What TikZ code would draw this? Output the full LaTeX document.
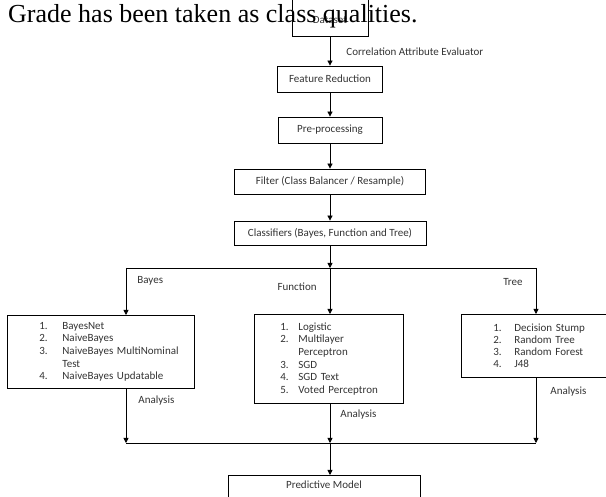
\documentclass[tikz,border=0pt]{standalone}
\usepackage{fontspec}
\setmainfont{Liberation Serif}
\newfontfamily\calfont{Carlito}
\usepackage{tikz}
\usetikzlibrary{arrows.meta}

\newcommand{\listnum}[2]{\makebox[#1][l]{#2}}

\begin{document}
\begin{tikzpicture}[x=1pt, y=-1pt,
    box/.style={draw, line width=0.8pt, text=black!80, inner sep=0pt,
      font={\calfont\fontsize{11}{12.6}\selectfont}},
    stepbox/.style={box, minimum height=26pt},
    listbox/.style={box, align=left, anchor=north west},
    lbl/.style={text=black!80, inner sep=0pt,
      font={\calfont\fontsize{11}{12}\selectfont}},
    link/.style={line width=0.8pt, -{Triangle[length=5pt, width=5pt]}},
    rail/.style={line width=0.8pt}]
    \def\spine{330}

    \useasboundingbox (0,0) rectangle (606,497);



    \node[stepbox, minimum width=76pt, text height=40pt, text depth=13pt,
      anchor=south] (dataset) at (\spine,37) {Dataset};

    \node[anchor=base west, inner sep=0pt, font=\fontsize{26}{30}\selectfont]
    (caption) at (8,23) {Grade has been taken as class qualities.};

    \node[stepbox, minimum width=105pt] (reduce) at (\spine,79) {Feature Reduction};

    \node[stepbox, minimum width=104pt] (prep) at (\spine,130) {Pre-processing};

    \node[stepbox, minimum width=191pt, minimum height=25pt] (filter) at (\spine,181.5)
    {Filter (Class Balancer / Resample)};

    \node[stepbox, minimum width=192pt, minimum height=24pt] (classify) at (\spine,233)
    {Classifiers (Bayes, Function and Tree)};



    \node[listbox, text width=123pt, inner xsep=32pt, minimum height=73pt]
    (bayes) at (7,315) {\listnum{23pt}{1.}BayesNet\\
      \listnum{23pt}{2.}NaiveBayes\\
      \listnum{23pt}{3.}\mbox{NaiveBayes MultiNominal}\\
      \hspace*{23pt}Test\\
      \listnum{23pt}{4.}\mbox{NaiveBayes Updatable}};

    \node[listbox, text width=97pt, inner xsep=26pt, minimum height=89pt]
    (func) at (254,314) {\listnum{18pt}{1.}Logistic\\
      \listnum{18pt}{2.}Multilayer\\
      \hspace*{18pt}Perceptron\\
      \listnum{18pt}{3.}SGD\\
      \listnum{18pt}{4.}\mbox{SGD Text}\\
      \listnum{18pt}{5.}\mbox{Voted Perceptron}};

    \node[listbox, text width=87pt, inner xsep=32pt, minimum height=63pt,
      font={\calfont\fontsize{11}{11.8}\selectfont}]
    (tree) at (461,314) {\listnum{21pt}{1.}\mbox{Decision Stump}\\
      \listnum{21pt}{2.}\mbox{Random Tree}\\
      \listnum{21pt}{3.}\mbox{Random Forest}\\
      \listnum{21pt}{4.}J48};

    \node[stepbox, minimum width=192pt, text height=13.5pt, text depth=20pt,
      anchor=north] (predict) at (324,475) {Predictive Model};



    \coordinate (split) at (\spine,268);
    \coordinate (splitL) at (126,268);
    \coordinate (splitR) at (536,268);

    \coordinate (merge) at (\spine,443);
    \coordinate (mergeL) at (126,443);
    \coordinate (mergeR) at (536,443);



    \draw[link] (dataset) -- node[lbl, right=16pt] {Correlation Attribute Evaluator} (reduce);

    \draw[link] (reduce) -- (prep);

    \draw[link] (prep) -- (filter);

    \draw[link] (filter) -- (classify);

    \draw[link] (classify) -- (split);

    \draw[rail] (splitL) -- (splitR);

    \draw[link] (splitL) -- node[lbl, right=11pt, pos=0.28] {Bayes} (splitL |- bayes.north);

    \draw[link] (split) -- node[lbl, left=13pt, pos=0.41] {Function} (split |- func.north);

    \draw[link] (splitR) -- node[lbl, left=13pt, pos=0.3] {Tree} (splitR |- tree.north);



    \draw[link] (bayes.south -| mergeL) -- node[lbl, right=12pt, pos=0.22] {Analysis} (mergeL);

    \draw[link] (func.south -| merge) -- node[lbl, right=10pt, pos=0.27] {Analysis} (merge);

    \draw[link] (tree.south -| mergeR) -- node[lbl, right=14pt, pos=0.21] {Analysis} (mergeR);

    \draw[rail] (mergeL) -- (mergeR);

    \draw[link] (merge) -- (merge |- predict.north);
\end{tikzpicture}
\end{document}
